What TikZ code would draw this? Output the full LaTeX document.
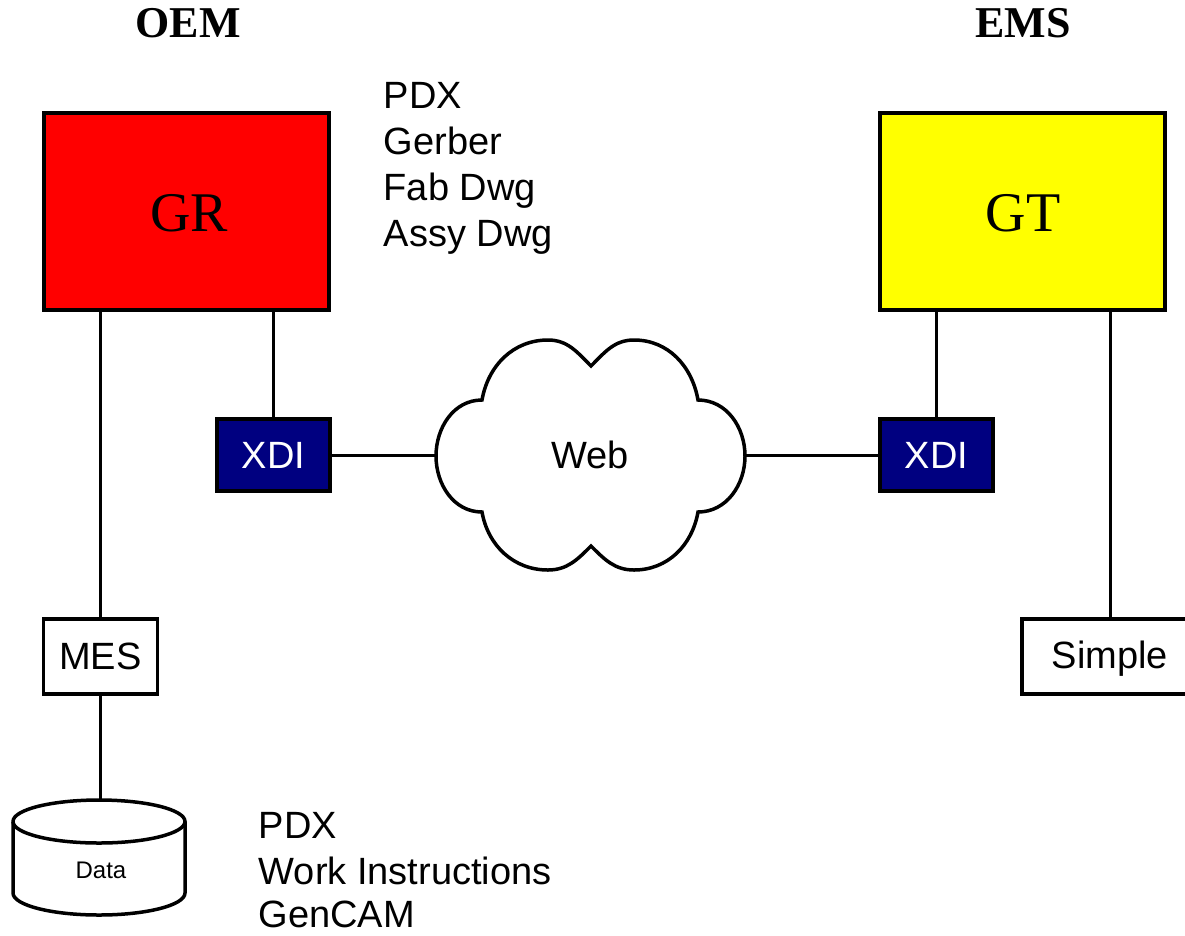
\documentclass[tikz,border=0pt]{standalone}
\usepackage{fontspec}
\setmainfont{Liberation Serif}
\newfontfamily\arialf{Liberation Sans}
\definecolor{navyx}{RGB}{0,0,128}
\definecolor{redx}{RGB}{255,0,0}
\definecolor{yellowx}{RGB}{255,255,0}
\begin{document}
\begin{tikzpicture}[x=1pt,y=1pt,
  box/.style={draw=black,line width=3.5pt,inner sep=0pt,align=center},
  bigbox/.style={box,minimum width=285,minimum height=197,font=\fontsize{56}{60}\selectfont},
  xdibox/.style={box,fill=navyx,text=white,minimum width=113,minimum height=72,font=\arialf\fontsize{38}{44}\selectfont},
  wbox/.style={box,fill=white,minimum height=75,font=\arialf\fontsize{38}{44}\selectfont},
  lbl/.style={inner sep=0pt,anchor=base west,font=\arialf\fontsize{38}{44}\selectfont},
  hdr/.style={inner sep=0pt,anchor=base,font=\bfseries\fontsize{44}{48}\selectfont},
  conn/.style={line width=3pt}]
\useasboundingbox (0,0) rectangle (1185,-935);

% headers
\node[hdr] (oem) at (188,-37) {OEM};
\node[hdr] (ems) at (1023,-37) {EMS};

% main boxes
\node[bigbox,fill=redx] (gr) at (186.5,-211.5) {};
\node[inner sep=0pt,anchor=base,font=\fontsize{56}{60}\selectfont] (grt) at (189,-231) {GR};
\node[bigbox,fill=yellowx] (gt) at (1022.5,-211.5) {};
\node[inner sep=0pt,anchor=base,font=\fontsize{56}{60}\selectfont] (gtt) at (1023,-231) {GT};

% XDI boxes
\node[xdibox] (xdil) at (273.5,-455) {XDI};
\node[xdibox] (xdir) at (936.5,-455) {XDI};

% MES and Simple
\node[wbox,minimum width=114] (mes) at (100.5,-656.5) {MES};
\node[wbox,minimum width=176] (simplebox) at (1110,-656.5) {};
\node[inner sep=0pt,font=\arialf\fontsize{38}{44}\selectfont] (simple) at (1110,-659) {Simple};

% cloud
\coordinate (webL) at (436,-455);
\coordinate (webR) at (745,-455);
\draw[line width=3.5pt,fill=white,line join=miter]
  (482,-400) to[out=80,in=180] (548,-340) to[out=0,in=135] (591,-366)
  to[out=45,in=180] (634,-340) to[out=0,in=100] (698,-400)
  to[out=0,in=90] (745,-456) to[out=-90,in=0] (698,-512)
  to[out=-100,in=0] (634,-570) to[out=180,in=-45] (591,-546)
  to[out=-135,in=0] (548,-570) to[out=180,in=-80] (482,-512)
  to[out=180,in=-90] (436,-456) to[out=90,in=180] (482,-400) -- cycle;
\node[inner sep=0pt,font=\arialf\fontsize{38}{44}\selectfont] (web) at (590,-455) {Web};

% cylinder
\coordinate (dataTop) at (99,-800);
\draw[line width=3.5pt,fill=white]
  (13,-821.5) -- (13,-893) arc[start angle=180,end angle=360,x radius=86,y radius=22]
  -- (185,-821.5) arc[start angle=0,end angle=180,x radius=86,y radius=21.5] -- cycle;
\draw[line width=3.5pt] (13,-821.5) arc[start angle=180,end angle=360,x radius=86,y radius=21.5];
\node[inner sep=0pt,font=\arialf\fontsize{24}{28}\selectfont] (data) at (101,-870) {Data};

% connectors
\draw[conn] (mes.north |- gr.south) -- (mes.north);
\draw[conn] (xdil.north |- gr.south) -- (xdil.north);
\draw[conn] (xdil.east) -- (webL);
\draw[conn] (webR) -- (xdir.west);
\draw[conn] (xdir.north |- gt.south) -- (xdir.north);
\draw[conn] (simplebox.north |- gt.south) -- (simplebox.north);
\draw[conn] (mes.south) -- (mes.south |- dataTop);

% text lists
\node[lbl] (pa) at (383.5,-108.5) {PDX};
\node[lbl] (pb) at (383.5,-154) {Gerber};
\node[lbl] (pc) at (383.5,-200) {Fab Dwg};
\node[lbl] (pd) at (383.5,-246) {Assy Dwg};
\node[lbl] (qa) at (258.5,-838.5) {PDX};
\node[lbl] (qb) at (258.5,-884) {Work Instructions};
\node[lbl] (qc) at (258.5,-927) {GenCAM};
\end{tikzpicture}
\end{document}
